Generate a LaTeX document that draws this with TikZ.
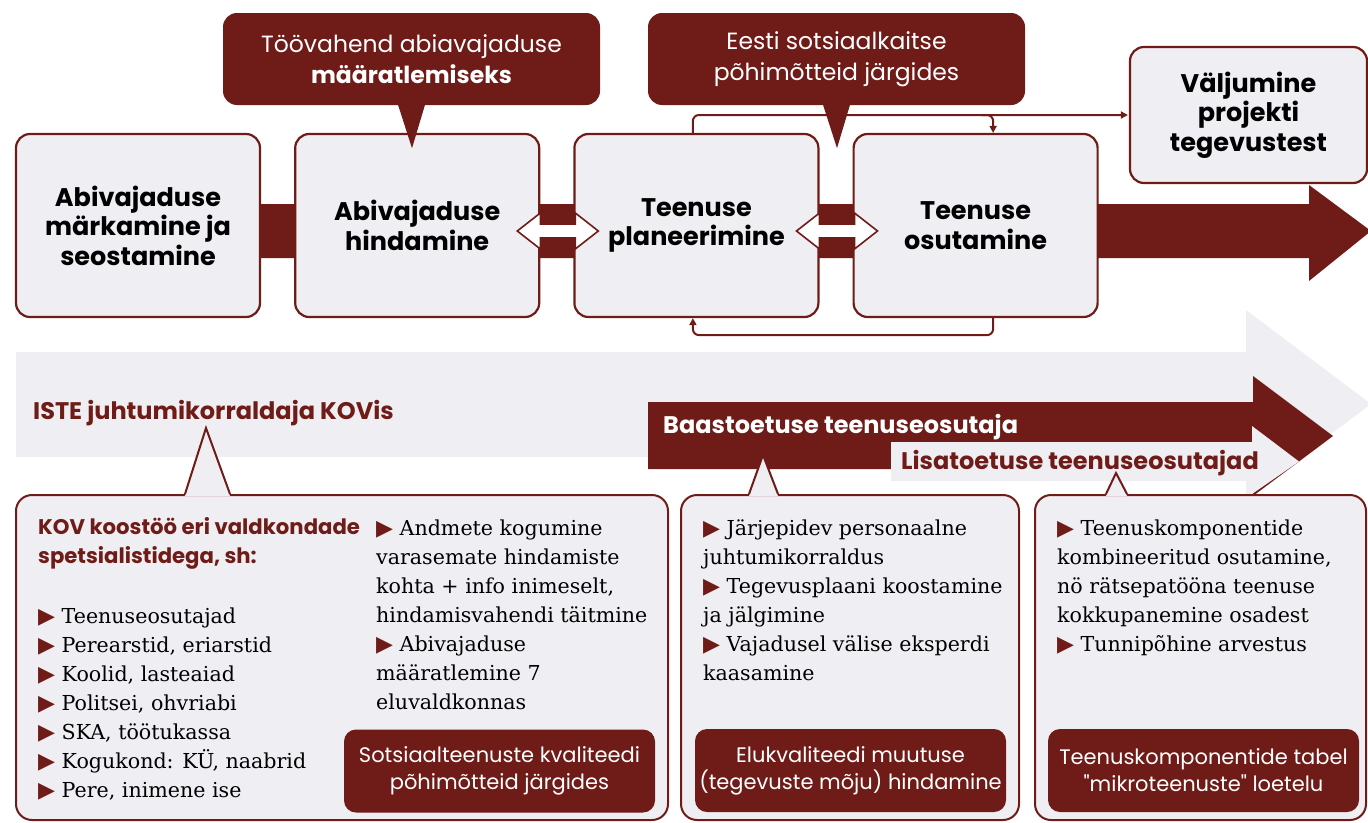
\documentclass[tikz,border=0pt]{standalone}
\usepackage{fontspec}
\setmainfont{DejaVu Serif}
\newfontfamily\headfont{Poppins}
\newfontfamily\symbolfont{DejaVu Sans}
\usetikzlibrary{positioning,arrows.meta,calc}

\definecolor{brick}{RGB}{111,28,24}
\definecolor{haze}{RGB}{239,238,243}
\newcommand{\tri}{{\symbolfont\fontsize{22}{29}\selectfont\textcolor{brick}{▶}}}

\begin{document}
\begin{tikzpicture}[x=1pt,y=-1pt,
    phase/.style={draw=brick,line width=2.2pt,fill=haze,rounded corners=14pt,
      minimum width=244pt,minimum height=183pt,align=center,inner sep=0pt,
      font=\headfont\bfseries\fontsize{25.5}{29.5}\selectfont},
    bubble/.style={fill=brick,rounded corners=14pt,minimum width=377pt,
      minimum height=92pt,align=center,text=white,inner sep=0pt,
      font=\headfont\fontsize{23.5}{31}\selectfont},
    panel/.style={draw=brick,line width=2pt,fill=haze,rounded corners=16pt,
      minimum height=325pt,inner sep=0pt},
    badge/.style={fill=brick,rounded corners=12pt,minimum width=311pt,
      minimum height=83pt,align=center,text=white,inner sep=0pt,
      font=\headfont\fontsize{21}{27}\selectfont},
    body/.style={anchor=north west,align=left,inner sep=0pt,
      font=\fontsize{20.6}{29}\selectfont},
    tag/.style={anchor=west,inner sep=0pt,
      font=\headfont\bfseries\fontsize{24}{28}\selectfont},
    flow/.style={draw=brick,line width=2pt,rounded corners=6pt,
      -{Triangle[length=7pt,width=7pt]}},
    twin/.style={draw=brick,line width=1.6pt,fill=white,line join=miter}]

  \useasboundingbox (0,0) rectangle (1368,822);

  % lanes behind everything
  \fill[haze] (16,352) -- (1246,352) -- (1246,310) -- (1371,404) -- (1246,498)
    -- (1246,457) -- (16,457) -- cycle;
  \fill[brick] (648,402) -- (1253,402) -- (1253,376) -- (1333,436) -- (1253,496)
    -- (1253,469) -- (648,469) -- cycle;
  \fill[haze] (891,442) -- (1252,442) -- (1252,426) -- (1299,461.5) -- (1252,494)
    -- (1252,481) -- (891,481) -- cycle;
  \fill[brick] (138,204) -- (1309,204) -- (1309,185) -- (1371,231) -- (1309,281)
    -- (1309,258) -- (138,258) -- cycle;

  % process row
  \node[phase] (notice) at (138,225.5) {Abivajaduse\\märkamine ja\\seostamine};
  \node[phase,right=33pt of notice] (assess) {Abivajaduse\\hindamine};
  \node[phase,right=33pt of assess] (plan) {Teenuse\\planeerimine};
  \node[phase,right=33pt of plan] (deliver) {Teenuse\\osutamine};
  \node[phase,minimum width=237pt,minimum height=136pt] (exit) at (1248.5,115)
    {Väljumine\\projekti\\tegevustest};

  \draw[twin] ([shift={(-23,5.5)}]assess.east) -- ++(23,-18) -- ++(0,11)
    -- ++(35,0) -- ++(0,-11) -- ++(23,18) -- ++(-23,18) -- ++(0,-11)
    -- ++(-35,0) -- ++(0,11) -- cycle;
  \draw[twin] ([shift={(-23,5.5)}]plan.east) -- ++(23,-18) -- ++(0,11)
    -- ++(35,0) -- ++(0,-11) -- ++(23,18) -- ++(-23,18) -- ++(0,-11)
    -- ++(-35,0) -- ++(0,11) -- cycle;

  \draw[flow,shorten >=1pt] ([xshift=-3.5pt]plan.north) |- (exit.west);
  \draw[flow] ($(deliver.north |- exit.west)+(6,0)$) -| ([xshift=17.5pt]deliver.north);
  \draw[flow] ([xshift=17.5pt]deliver.south) -- ++(0,17) -| ([xshift=-3.5pt]plan.south);

  \node[bubble] (tool) at (411.5,59) {Töövahend abiavajaduse\\\textbf{määratlemiseks}};
  \node[bubble] (principles) at (836.5,59) {Eesti sotsiaalkaitse\\põhimõtteid järgides};
  \fill[brick] ([shift={(-14,-2)}]tool.south) -- ([shift={(0.5,43)}]tool.south)
    -- ([shift={(14,-2)}]tool.south) -- cycle;
  \fill[brick] ([shift={(-14,-2)}]principles.south) -- ([shift={(0.5,43)}]principles.south)
    -- ([shift={(14,-2)}]principles.south) -- cycle;

  % actors
  \node[tag,text=brick] (iste) at (33,413) {ISTE juhtumikorraldaja KOVis};
  \node[tag,text=white] (baas) at (663,427) {Baastoetuse teenuseosutaja};
  \node[tag,text=brick] (lisa) at (901,463.5) {Lisatoetuse teenuseosutajad};

  \node[panel,minimum width=652pt] (kov) at (342,657.5) {};
  \node[panel,minimum width=338pt] (base) at (850,657.5) {};
  \node[panel,minimum width=331pt] (extra) at (1200.5,657.5) {};

  \coordinate (kovtip) at (206,428);
  \coordinate (basetip) at (763,455);
  \coordinate (extratip) at (1116,473);
  \fill[haze] ([shift={(-157,2)}]kov.north) -- (kovtip) -- ([shift={(-112,2)}]kov.north) -- cycle;
  \draw[brick,line width=2pt] ([xshift=-157pt]kov.north) -- (kovtip) -- ([xshift=-112pt]kov.north);
  \fill[haze] ([shift={(-101,2)}]base.north) -- (basetip) -- ([shift={(-72,2)}]base.north) -- cycle;
  \draw[brick,line width=2pt] ([xshift=-101pt]base.north) -- (basetip) -- ([xshift=-72pt]base.north);
  \fill[haze] ([shift={(-94.5,2)}]extra.north) -- (extratip) -- ([shift={(-73.5,2)}]extra.north) -- cycle;
  \draw[brick,line width=2pt] ([xshift=-94.5pt]extra.north) -- (extratip) -- ([xshift=-73.5pt]extra.north);

  \node[body,text=brick,font=\headfont\bfseries\fontsize{21.2}{29}\selectfont] (kovhead)
    at (38,514) {\strut KOV koostöö eri valdkondade\\spetsialistidega, sh:};
  \node[body] (partners) at (38,603) {\strut\tri\ Teenuseosutajad\\\tri\ Perearstid, eriarstid\\
    \tri\ Koolid, lasteaiad\\\tri\ Politsei, ohvriabi\\\tri\ SKA, töötukassa\\
    \tri\ Kogukond: KÜ, naabrid\\\tri\ Pere, inimene ise};
  \node[body] (kovtasks) at (376,515) {\strut\tri\ Andmete kogumine\\varasemate hindamiste\\
    kohta + info inimeselt,\\hindamisvahendi täitmine\\\tri\ Abivajaduse\\määratlemine 7\\
    eluvaldkonnas};
  \node[body] (basetasks) at (703,515) {\strut\tri\ Järjepidev personaalne\\juhtumikorraldus\\
    \tri\ Tegevusplaani koostamine\\ja jälgimine\\\tri\ Vajadusel välise eksperdi\\kaasamine};
  \node[body] (addtasks) at (1057,515) {\strut\tri\ Teenuskomponentide\\kombineeritud osutamine,\\
    nö rätsepatööna teenuse\\kokkupanemine osadest\\\tri\ Tunnipõhine arvestus};

  \node[badge] (quality) at (499.5,771) {Sotsiaalteenuste kvaliteedi\\põhimõtteid järgides};
  \node[badge] (impact) at (850.5,770.5) {Elukvaliteedi muutuse\\(tegevuste mõju) hindamine};
  \node[badge] (catalog) at (1203.5,770.5) {Teenuskomponentide tabel\\"mikroteenuste" loetelu};
\end{tikzpicture}
\end{document}
